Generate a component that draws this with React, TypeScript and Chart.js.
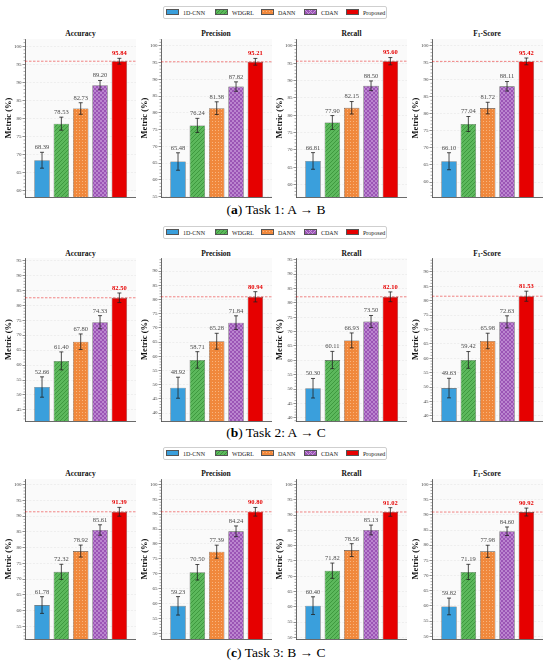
import React, { useEffect, useRef } from 'react';
import { Chart, registerables } from 'chart.js';

Chart.register(...registerables);

// ---------------- DATA ----------------
const methods = ['1D-CNN', 'WDGRL', 'DANN', 'CDAN', 'Proposed'];
const metricNames = ['Accuracy', 'Precision', 'Recall', 'F1-Score'];
const taskLetters = ['a', 'b', 'c'];
const taskTexts = ['Task 1: A \u2192 B', 'Task 2: A \u2192 C', 'Task 3: B \u2192 C'];

// Task 1: A -> B
const t1Accuracy = [68.39, 78.53, 82.73, 89.2, 95.84];
const t1AccuracyErr = [2.2, 1.8, 1.6, 1.3, 0.8];
const t1Precision = [65.48, 76.24, 81.38, 87.82, 95.21];
const t1PrecisionErr = [2.6, 2.1, 1.9, 1.4, 1.0];
const t1Recall = [66.81, 77.9, 82.15, 88.5, 95.6];
const t1RecallErr = [2.4, 2.0, 1.8, 1.4, 1.05];
const t1F1 = [66.1, 77.04, 81.72, 88.11, 95.42];
const t1F1Err = [2.5, 2.2, 1.7, 1.4, 1.0];

// Task 2: A -> C
const t2Accuracy = [52.66, 61.4, 67.8, 74.33, 82.5];
const t2AccuracyErr = [3.4, 3.0, 2.6, 2.2, 1.6];
const t2Precision = [48.92, 58.71, 65.28, 71.84, 80.94];
const t2PrecisionErr = [3.7, 2.9, 2.8, 2.4, 1.8];
const t2Recall = [50.3, 60.11, 66.93, 73.5, 82.1];
const t2RecallErr = [3.4, 3.0, 2.6, 2.1, 1.7];
const t2F1 = [49.63, 59.42, 65.98, 72.63, 81.53];
const t2F1Err = [3.4, 2.9, 2.7, 2.1, 1.75];

// Task 3: B -> C
const t3Accuracy = [61.78, 72.32, 78.92, 85.61, 91.39];
const t3AccuracyErr = [2.65, 2.4, 1.9, 1.65, 1.4];
const t3Precision = [59.23, 70.5, 77.39, 84.24, 90.8];
const t3PrecisionErr = [3.1, 2.6, 2.2, 1.8, 1.45];
const t3Recall = [60.4, 71.82, 78.56, 85.13, 91.02];
const t3RecallErr = [2.9, 2.5, 2.1, 1.6, 1.4];
const t3F1 = [59.82, 71.19, 77.98, 84.6, 90.92];
const t3F1Err = [2.75, 2.5, 2.0, 1.4, 1.3];

// y-axis ranges [min, max] per panel
const t1Ranges = [[58.2, 102], [54.9, 102], [56.4, 102], [55.6, 102]];
const t2Ranges = [[41.3, 95.8], [37.2, 94.6], [38.9, 95.6], [38.2, 94.8]];
const t3Ranges = [[51.0, 101.8], [48.1, 101.8], [49.5, 101.8], [49.1, 101.8]];

const tasks = [
  { values: [t1Accuracy, t1Precision, t1Recall, t1F1], errors: [t1AccuracyErr, t1PrecisionErr, t1RecallErr, t1F1Err], ranges: t1Ranges },
  { values: [t2Accuracy, t2Precision, t2Recall, t2F1], errors: [t2AccuracyErr, t2PrecisionErr, t2RecallErr, t2F1Err], ranges: t2Ranges },
  { values: [t3Accuracy, t3Precision, t3Recall, t3F1], errors: [t3AccuracyErr, t3PrecisionErr, t3RecallErr, t3F1Err], ranges: t3Ranges },
];

// ---------------- STYLE / LAYOUT ----------------
const SERIF = "'Liberation Serif', 'Times New Roman', serif";
const PLOT_LEFTS = [25, 160.5, 296, 431.5];
const PLOT_W = 111;
const AXIS_W = 22;
const ROWS = [
  { legendTop: 5.5, titleY: 34, plotTop: 39.3, plotBottom: 197.3, captionY: 210 },
  { legendTop: 225.5, titleY: 254, plotTop: 257.7, plotBottom: 420.7, captionY: 433 },
  { legendTop: 446.5, titleY: 474, plotTop: 479, plotBottom: 639, captionY: 653 },
];

const COL_BLUE = '#3a9fdc';
const COL_GREEN = '#5cb85c';
const COL_ORANGE = '#f0883c';
const COL_PURPLE = '#9b55b5';
const COL_RED = '#e60000';
const HATCH_GREEN = '#3c953c';
const HATCH_ORANGE = '#f9b57e';
const HATCH_PURPLE = '#c89bda';

let patternCache: any[] | null = null;
function makeFills(): any[] {
  if (patternCache) return patternCache;
  const mk = (size: number, draw: (c: CanvasRenderingContext2D, s: number) => void) => {
    const cv = document.createElement('canvas');
    cv.width = size;
    cv.height = size;
    const c = cv.getContext('2d') as CanvasRenderingContext2D;
    draw(c, size);
    return c.createPattern(cv, 'repeat');
  };
  const green = mk(4, (c, s) => {
    c.fillStyle = COL_GREEN;
    c.fillRect(0, 0, s, s);
    c.strokeStyle = HATCH_GREEN;
    c.lineWidth = 0.9;
    c.beginPath();
    c.moveTo(0, s); c.lineTo(s, 0);
    c.moveTo(-1, 1); c.lineTo(1, -1);
    c.moveTo(s - 1, s + 1); c.lineTo(s + 1, s - 1);
    c.stroke();
  });
  const orange = mk(3, (c, s) => {
    c.fillStyle = COL_ORANGE;
    c.fillRect(0, 0, s, s);
    c.fillStyle = HATCH_ORANGE;
    c.fillRect(1, 1, 1, 1);
  });
  const purple = mk(4, (c, s) => {
    c.fillStyle = COL_PURPLE;
    c.fillRect(0, 0, s, s);
    c.strokeStyle = HATCH_PURPLE;
    c.lineWidth = 0.7;
    c.beginPath();
    c.moveTo(0, 0); c.lineTo(s, s);
    c.moveTo(0, s); c.lineTo(s, 0);
    c.stroke();
  });
  patternCache = [COL_BLUE, green, orange, purple, COL_RED];
  return patternCache;
}

const overlayPlugin = {
  id: 'overlay',
  beforeDraw(chart: any) {
    const { ctx, chartArea: a } = chart;
    ctx.save();
    ctx.fillStyle = '#fafafa';
    ctx.fillRect(a.left, a.top, a.right - a.left, a.bottom - a.top);
    ctx.restore();
  },
  beforeDatasetsDraw(chart: any, _args: any, opts: any) {
    const vals = opts && opts.vals;
    if (!vals) return;
    const { ctx, chartArea: a } = chart;
    const y = chart.scales.y;
    const yp = y.getPixelForValue(vals[vals.length - 1]);
    ctx.save();
    ctx.strokeStyle = 'rgba(230,0,0,0.6)';
    ctx.lineWidth = 0.8;
    ctx.setLineDash([2.5, 1.5]);
    ctx.beginPath();
    ctx.moveTo(a.left, yp);
    ctx.lineTo(a.right, yp);
    ctx.stroke();
    ctx.restore();
  },
  afterDatasetsDraw(chart: any, _args: any, opts: any) {
    const vals = opts && opts.vals;
    const errs = opts && opts.errs;
    if (!vals || !errs) return;
    const { ctx, chartArea: a } = chart;
    const xs = chart.scales.x;
    const y = chart.scales.y;
    ctx.save();
    // minor ticks
    ctx.strokeStyle = '#555';
    ctx.lineWidth = 0.5;
    ctx.beginPath();
    for (let v = Math.ceil(y.min); v <= Math.floor(y.max); v++) {
      if (v % 5 === 0) continue;
      const yy = y.getPixelForValue(v);
      ctx.moveTo(a.left - 1.5, yy);
      ctx.lineTo(a.left, yy);
    }
    ctx.stroke();
    // error bars + labels
    vals.forEach((v: number, i: number) => {
      const x = xs.getPixelForValue(i);
      const yt = y.getPixelForValue(v + errs[i]);
      const yb = y.getPixelForValue(v - errs[i]);
      ctx.strokeStyle = '#222';
      ctx.lineWidth = 0.8;
      ctx.beginPath();
      ctx.moveTo(x, yt); ctx.lineTo(x, yb);
      ctx.moveTo(x - 2, yt); ctx.lineTo(x + 2, yt);
      ctx.moveTo(x - 2, yb); ctx.lineTo(x + 2, yb);
      ctx.stroke();
      const last = i === vals.length - 1;
      ctx.fillStyle = last ? COL_RED : '#4a4a4a';
      ctx.font = `${last ? 'bold ' : ''}6.5px ${SERIF}`;
      ctx.textAlign = 'center';
      ctx.textBaseline = 'bottom';
      ctx.fillText(v.toFixed(2), x, yt - 1.5);
    });
    // y-axis title
    ctx.translate(a.left - 16.5, (a.top + a.bottom) / 2);
    ctx.rotate(-Math.PI / 2);
    ctx.fillStyle = '#111';
    ctx.font = `bold 8.5px ${SERIF}`;
    ctx.textAlign = 'center';
    ctx.textBaseline = 'middle';
    ctx.fillText('Metric (%)', 0, 0);
    ctx.restore();
  },
};

function Panel(props: { values: number[]; errors: number[]; range: number[]; left: number; top: number; height: number }) {
  const ref = useRef<HTMLCanvasElement | null>(null);
  const { values, errors, range, left, top, height } = props;
  useEffect(() => {
    if (!ref.current) return;
    const fills = makeFills();
    const chart: any = new Chart(ref.current, {
      type: 'bar',
      data: {
        datasets: [
          {
            data: values.map((v, i) => ({ x: i, y: v })),
            backgroundColor: fills,
            borderColor: 'rgba(50,50,50,0.85)',
            borderWidth: 0.6,
            barPercentage: 0.8,
            categoryPercentage: 1,
          } as any,
        ],
      },
      options: {
        animation: false,
        responsive: false,
        maintainAspectRatio: false,
        events: [],
        layout: { padding: 0 },
        plugins: {
          legend: { display: false },
          tooltip: { enabled: false },
          overlay: { vals: values, errs: errors },
        } as any,
        scales: {
          x: {
            type: 'linear',
            min: -0.88,
            max: 4.86,
            offset: false,
            ticks: { display: false },
            grid: { display: false, drawTicks: false },
            border: { display: true, color: '#444', width: 0.8 },
            afterFit: (s: any) => { s.height = 1; s.paddingLeft = 0; s.paddingRight = 0; },
          },
          y: {
            min: range[0],
            max: range[1],
            ticks: {
              stepSize: 5,
              includeBounds: false,
              font: { family: SERIF, size: 5 },
              color: '#444',
              padding: 1,
            },
            afterBuildTicks: (s: any) => {
              s.ticks = s.ticks.filter((t: any) => Math.abs(t.value / 5 - Math.round(t.value / 5)) < 1e-6);
            },
            grid: {
              color: '#e2e2e2',
              lineWidth: 0.5,
              tickLength: 2.5,
              tickColor: '#444',
              tickWidth: 0.6,
              tickBorderDash: [],
            } as any,
            border: { display: true, color: '#444', width: 0.8, dash: [2, 1.5] } as any,
            afterFit: (s: any) => { s.width = AXIS_W; s.paddingTop = 0; s.paddingBottom = 0; },
          },
        } as any,
      },
      plugins: [overlayPlugin],
    } as any);
    return () => chart.destroy();
  }, [values, errors, range]);
  const w = AXIS_W + PLOT_W;
  const h = height + 1;
  return (
    <canvas
      ref={ref}
      width={w}
      height={h}
      style={{ position: 'absolute', left: left - AXIS_W, top, width: w, height: h }}
    />
  );
}

function Swatch(props: { idx: number }) {
  const base: React.CSSProperties = { width: 13, height: 6, border: '0.5px solid #555', boxSizing: 'border-box' };
  const styles: React.CSSProperties[] = [
    { background: COL_BLUE },
    { background: `repeating-linear-gradient(135deg, ${HATCH_GREEN} 0 0.8px, ${COL_GREEN} 0.8px 2.6px)` },
    { background: `radial-gradient(circle, ${HATCH_ORANGE} 35%, transparent 40%) 0 0 / 3px 3px, ${COL_ORANGE}` },
    { background: `repeating-linear-gradient(45deg, ${HATCH_PURPLE} 0 0.6px, transparent 0.6px 2.6px), repeating-linear-gradient(-45deg, ${HATCH_PURPLE} 0 0.6px, transparent 0.6px 2.6px), ${COL_PURPLE}` },
    { background: COL_RED },
  ];
  return <div style={{ ...base, ...styles[props.idx] }} />;
}

const LEGEND_SWATCH_X = [165, 214, 260, 303, 345];

function Legend(props: { top: number }) {
  return (
    <div
      style={{
        position: 'absolute',
        left: 163,
        top: props.top,
        width: 224,
        height: 13,
        border: '0.8px solid #cfcfcf',
        borderRadius: 2,
        background: '#fff',
        boxSizing: 'border-box',
      }}
    >
      {methods.map((m, i) => (
        <React.Fragment key={m}>
          <div style={{ position: 'absolute', left: LEGEND_SWATCH_X[i] - 163, top: 2.7 }}>
            <Swatch idx={i} />
          </div>
          <div
            style={{
              position: 'absolute',
              left: LEGEND_SWATCH_X[i] - 163 + 17,
              top: 0,
              height: 12,
              lineHeight: '12px',
              fontFamily: SERIF,
              fontSize: 6,
              color: '#222',
              whiteSpace: 'nowrap',
            }}
          >
            {m}
          </div>
        </React.Fragment>
      ))}
    </div>
  );
}

function MetricTitle(props: { name: string }) {
  if (props.name === 'F1-Score') {
    return (
      <span>
        F<sub style={{ fontSize: '0.7em', verticalAlign: '-0.25em', lineHeight: 0 }}>1</sub>-Score
      </span>
    );
  }
  return <span>{props.name}</span>;
}

export default function App() {
  useEffect(() => {
    document.body.style.margin = '0';
  }, []);
  return (
    <div style={{ position: 'relative', width: 550, height: 665, background: '#fff', overflow: 'hidden' }}>
      {tasks.map((task, r) => {
        const row = ROWS[r];
        const ph = row.plotBottom - row.plotTop;
        return (
          <React.Fragment key={r}>
            <Legend top={row.legendTop} />
            {metricNames.map((mn, c) => (
              <React.Fragment key={mn}>
                <div
                  style={{
                    position: 'absolute',
                    left: PLOT_LEFTS[c],
                    width: PLOT_W,
                    top: row.titleY - 6,
                    height: 12,
                    lineHeight: '12px',
                    textAlign: 'center',
                    fontFamily: SERIF,
                    fontWeight: 'bold',
                    fontSize: 7.5,
                    color: '#111',
                  }}
                >
                  <MetricTitle name={mn} />
                </div>
                <Panel
                  values={task.values[c]}
                  errors={task.errors[c]}
                  range={task.ranges[c]}
                  left={PLOT_LEFTS[c]}
                  top={row.plotTop}
                  height={ph}
                />
              </React.Fragment>
            ))}
            <div
              style={{
                position: 'absolute',
                left: 0,
                width: 552,
                top: row.captionY - 9,
                height: 18,
                lineHeight: '18px',
                textAlign: 'center',
                fontFamily: SERIF,
                fontSize: 13.5,
                color: '#000',
              }}
            >
              (<b>{taskLetters[r]}</b>) {taskTexts[r]}
            </div>
          </React.Fragment>
        );
      })}
    </div>
  );
}
